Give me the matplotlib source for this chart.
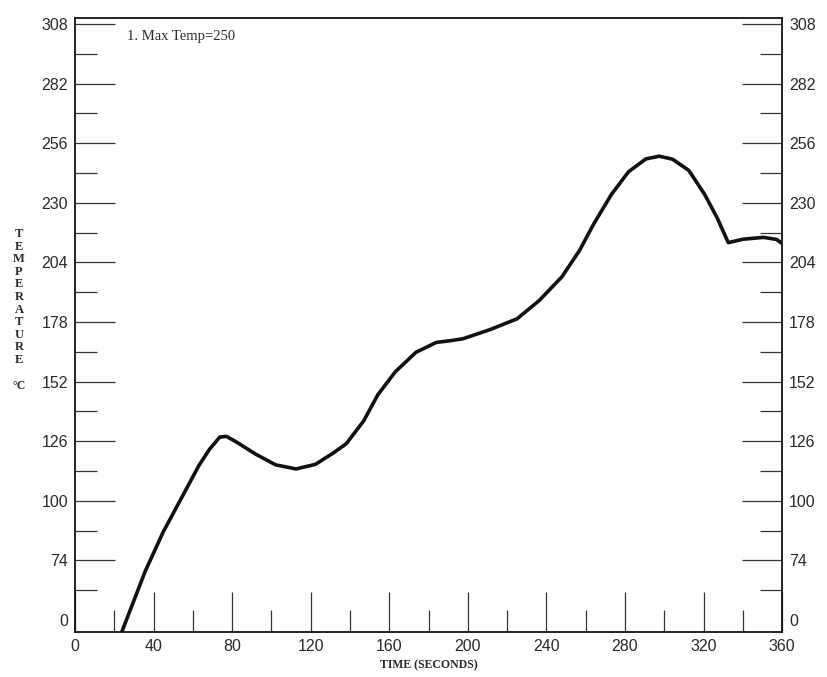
import matplotlib
matplotlib.use("Agg")
import matplotlib.pyplot as plt
from matplotlib.ticker import FixedLocator

# Curva (tempo em segundos, temperatura na escala do eixo)
tempo = [23.8, 35.8, 45.0, 54.0, 63.0, 68.4, 73.7, 77.1, 82.1, 92.1, 102.1,
         112.5, 122.4, 131.2, 138.1, 147.0, 154.2, 163.1, 173.6, 184.0,
         190.8, 197.6, 211.4, 225.1, 236.4, 247.9, 256.8, 264.0, 273.0, 281.8,
         290.6, 297.4, 304.2, 312.5, 320.6, 327.0, 332.6, 340.2, 350.5, 357.2,
         359.7]
temperatura = [42.8, 69.4, 86.6, 100.9, 115.3, 122.4, 127.8, 128.1, 125.7, 120.3, 115.7,
               113.9, 115.9, 120.7, 124.9, 134.9, 146.3, 156.3, 164.8, 169.1,
               169.8, 170.7, 174.7, 179.4, 187.4, 197.7, 209.1, 220.6, 233.5, 243.5,
               249.1, 250.3, 249.0, 244.1, 233.6, 223.3, 212.6, 214.1, 214.9, 214.0,
               212.4]

marcas_y = [48, 74, 100, 126, 152, 178, 204, 230, 256, 282, 308]
rotulos_y = ["0", "74", "100", "126", "152", "178", "204", "230", "256", "282", "308"]
marcas_y_menores = [61, 87, 113, 139, 165, 191, 217, 243, 269, 295]
marcas_x = [0, 40, 80, 120, 160, 200, 240, 280, 320, 360]
marcas_x_menores = [20, 60, 100, 140, 180, 220, 260, 300, 340]

cor_linha = "#111111"
cor_texto = "#2a2a2a"

fig = plt.figure(figsize=(8.27, 6.77), dpi=100)
ax = fig.add_axes([0.0907, 0.0665, 0.855, 0.907])

ax.plot(tempo, temperatura, color=cor_linha, linewidth=2.6,
        solid_joinstyle="round", solid_capstyle="round")

ax.set_xlim(0, 360)
ax.set_ylim(42.8, 310.6)

ax.xaxis.set_major_locator(FixedLocator(marcas_x))
ax.xaxis.set_minor_locator(FixedLocator(marcas_x_menores))
ax.yaxis.set_major_locator(FixedLocator(marcas_y))
ax.yaxis.set_minor_locator(FixedLocator(marcas_y_menores))
ax.set_yticklabels(rotulos_y)
ax.set_xticklabels([str(v) for v in marcas_x])

for lado in ax.spines.values():
    lado.set_linewidth(1.3)
    lado.set_color(cor_linha)

ax.tick_params(axis="both", which="both", direction="in", width=0.9, color="#333333",
               labelsize=11.5, labelcolor=cor_texto, pad=5)
ax.tick_params(axis="both", which="major", length=29)
ax.tick_params(axis="both", which="minor", length=16)
ax.tick_params(axis="y", which="both", left=True, right=True, labelleft=True, labelright=True)
ax.tick_params(axis="x", which="both", bottom=True, top=False)
for rotulo in ax.get_xticklabels() + ax.get_yticklabels():
    rotulo.set_fontfamily("Liberation Sans")

# o "0" do eixo y nao tem traco
primeira = ax.yaxis.get_major_ticks()[0]
primeira.tick1line.set_visible(False)
primeira.tick2line.set_visible(False)

ax.text(0.074, 0.969, "1. Max Temp=250", transform=ax.transAxes, ha="left", va="center",
        fontfamily="Liberation Serif", fontsize=10.5, color=cor_texto)

ax.set_xlabel("TIME (SECONDS)", fontfamily="Liberation Serif", fontweight="bold",
              fontsize=8.5, color=cor_texto, labelpad=4)

fig.text(19 / 827, 1 - 297 / 677, "\n".join("TEMPERATURE"), ha="center", va="center",
         fontfamily="Liberation Serif", fontweight="bold", fontsize=9, linespacing=1.06,
         color=cor_texto)
fig.text(19 / 827, 1 - 386 / 677, "°C", ha="center", va="center",
         fontfamily="Liberation Serif", fontweight="bold", fontsize=8.5, color=cor_texto)

fig.savefig("out.png", dpi=100)
plt.close(fig)
